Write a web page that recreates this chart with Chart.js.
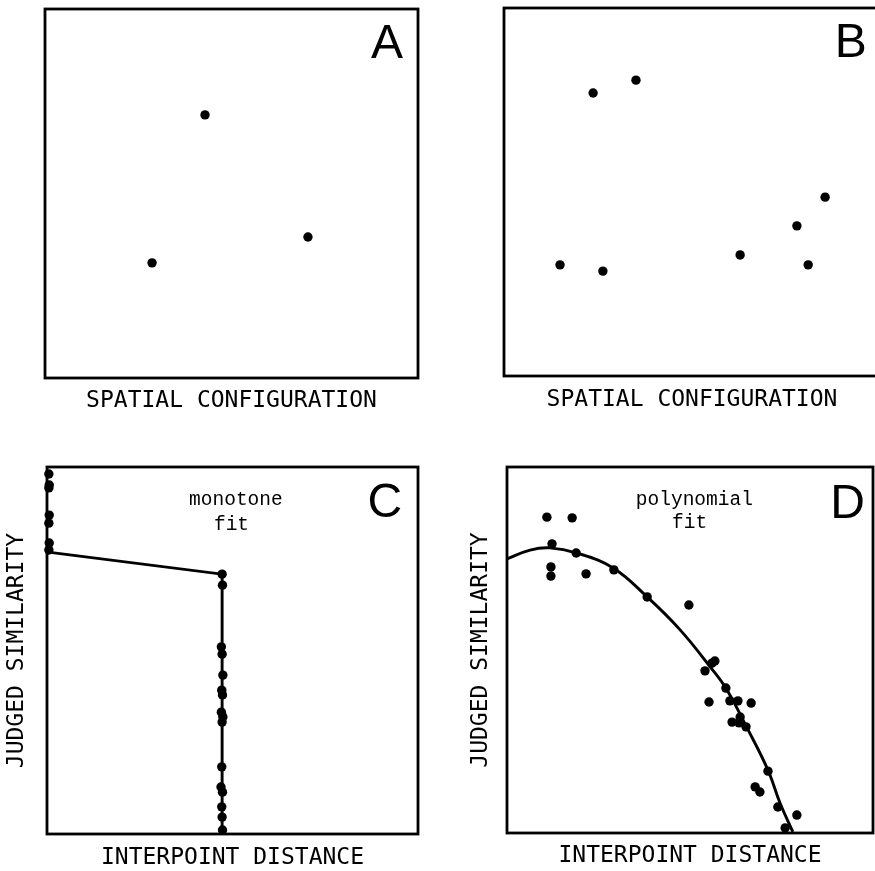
<!DOCTYPE html>
<html>
<head>
<meta charset="utf-8">
<script src="https://cdn.jsdelivr.net/npm/chart.js@4.4.1/dist/chart.umd.min.js"></script>
<style>
    html, body { margin: 0; padding: 0; background: #fff; overflow: hidden; width: 875px; height: 871px; }
    canvas { position: absolute; }
</style>
</head>
<body>
<canvas id="panelA" width="437" height="437" style="left:0;top:0"></canvas>
<canvas id="panelB" width="450" height="437" style="left:440px;top:0"></canvas>
<canvas id="panelC" width="437" height="440" style="left:0;top:437px"></canvas>
<canvas id="panelD" width="450" height="440" style="left:440px;top:437px"></canvas>
<script>
// Panel A - spatial configuration, 3 points
const aX = [42.9, 28.7, 70.5];
const aY = [71.3, 31.2, 38.2];

// Panel B - spatial configuration, 8 points
const bX = [23.7, 35.1, 14.9, 26.3, 62.8, 77.9, 80.9, 85.4];
const bY = [76.9, 80.4, 30.2, 28.5, 32.9, 40.8, 30.2, 48.6];

// Panel C - points piled on the left edge and on the vertical step
const cEdgeX = [0.5, 0.6, 0.5, 0.6, 0.5, 0.6, 0.5];
const cEdgeY = [98.1, 95.1, 94.3, 86.9, 84.7, 79.3, 77.4];
const cDotX = [47.2, 47.3, 47.0, 47.2, 47.4, 47.1, 47.3, 47.0, 47.4, 47.2, 47.1, 46.9, 47.3, 47.1, 47.2, 47.3];
const cDotY = [70.8, 67.8, 51.0, 49.0, 43.3, 39.2, 37.9, 33.2, 31.9, 30.5, 18.3, 12.8, 11.4, 7.4, 4.6, 1.1];
const cFitX = [0.3, 47.2, 47.2];
const cFitY = [76.8, 70.8, 0];

// Panel D - scatter with polynomial fit
const dX = [10.9, 17.8, 12.3, 18.9, 12.0, 12.0, 21.6, 29.2, 38.3, 49.7, 54.1, 56.0, 56.8, 55.2, 59.8, 60.9,
    63.1, 66.7, 63.7, 61.5, 63.4, 65.3, 71.3, 67.8, 69.1, 74.0, 79.2, 76.0];
const dY = [86.3, 86.1, 79.0, 76.5, 72.7, 70.2, 70.8, 71.9, 64.5, 62.3, 44.3, 46.4, 47.0, 35.8, 39.6, 36.1,
    36.1, 35.5, 31.7, 30.3, 30.1, 29.0, 16.9, 12.6, 11.2, 7.1, 4.9, 1.4];
const dCurveX = [0, 6.3, 11.7, 19.1, 29.0, 38.3, 47.3, 55.5, 60.1, 65.6, 71.3, 74.6, 78.1];
const dCurveY = [74.9, 77.3, 77.9, 76.5, 72.4, 64.5, 55.5, 45.4, 39.1, 28.7, 17.2, 8.2, 0.3];

const titleFont = { family: '"DejaVu Sans Mono", monospace', size: 23, lineHeight: 1.2 };
const letterFont = '48px "Liberation Sans", Arial, sans-serif';
const noteFont = '19.5px "Liberation Mono", "Courier New", monospace';

const toPoints = (xs, ys) => xs.map((x, i) => ({ x: x, y: ys[i] }));

Chart.defaults.color = '#000';
Chart.defaults.font.family = titleFont.family;

// Draws the square frame around the plot area
const frame = {
    id: 'frame',
    beforeDatasetsDraw(chart) {
        const { ctx, chartArea } = chart;
        ctx.save();
        ctx.strokeStyle = '#000';
        ctx.lineWidth = 2.8;
        ctx.strokeRect(chartArea.left, chartArea.top, chartArea.right - chartArea.left, chartArea.bottom - chartArea.top);
        ctx.restore();
    }
};

// Panel letter and notes, placed in data units
const panelText = {
    id: 'panelText',
    afterDatasetsDraw(chart, args, opts) {
        const { ctx, scales } = chart;
        ctx.save();
        ctx.fillStyle = '#000';
        ctx.textBaseline = 'alphabetic';
        (opts.items || []).forEach(item => {
            ctx.font = item.font;
            ctx.textAlign = item.align || 'left';
            ctx.fillText(item.text, scales.x.getPixelForValue(item.x), scales.y.getPixelForValue(item.y));
        });
        ctx.restore();
    }
};

function dotSet(points) {
    return {
        data: points,
        pointRadius: 4.7,
        pointHoverRadius: 4.7,
        pointBackgroundColor: '#000',
        pointBorderWidth: 0,
        showLine: false,
        clip: false
    };
}

function lineSet(points, smooth) {
    return {
        data: points,
        showLine: true,
        pointRadius: 0,
        borderColor: '#000',
        borderWidth: 2.9,
        tension: smooth ? 0.4 : 0,
        clip: false
    };
}

function makePanel(id, datasets, cfg) {
    new Chart(document.getElementById(id), {
        type: 'scatter',
        data: { datasets: datasets },
        options: {
            responsive: false,
            animation: false,
            events: [],
            layout: { autoPadding: false, padding: cfg.padding },
            scales: {
                x: {
                    min: 0, max: 100,
                    border: { display: false },
                    grid: { display: false, drawTicks: false },
                    ticks: { display: false },
                    title: { display: true, text: cfg.xTitle, font: titleFont, padding: { top: cfg.xPad, bottom: 0 } }
                },
                y: {
                    min: 0, max: 100,
                    display: !!cfg.yTitle,
                    border: { display: false },
                    grid: { display: false, drawTicks: false },
                    ticks: { display: false },
                    title: {
                        display: !!cfg.yTitle, text: cfg.yTitle, font: titleFont,
                        padding: cfg.yPad || { top: 0, bottom: 0 }
                    }
                }
            },
            plugins: {
                legend: { display: false },
                tooltip: { enabled: false },
                panelText: { items: cfg.texts }
            }
        },
        plugins: [frame, panelText]
    });
}

makePanel('panelA', [dotSet(toPoints(aX, aY))], {
    padding: { left: 45, right: 19, top: 9, bottom: 22.2 },
    xTitle: 'SPATIAL CONFIGURATION', xPad: 9.2,
    texts: [{ text: 'A', x: 96.0, y: 86.7, font: letterFont, align: 'right' }]
});

makePanel('panelB', [dotSet(toPoints(bX, bY))], {
    padding: { left: 64, right: 10, top: 8, bottom: 23.2 },
    xTitle: 'SPATIAL CONFIGURATION', xPad: 10.2,
    texts: [{ text: 'B', x: 96.5, y: 86.7, font: letterFont, align: 'right' }]
});

makePanel('panelC', [
    lineSet(toPoints(cFitX, cFitY), false),
    dotSet(toPoints(cEdgeX, cEdgeY)),
    dotSet(toPoints(cDotX, cDotY))
], {
    padding: { left: 0, right: 19, top: 30, bottom: 5.2 },
    xTitle: 'INTERPOINT DISTANCE', xPad: 10.2,
    yTitle: 'JUDGED SIMILARITY', yPad: { top: 2.9, bottom: 16.5 },
    texts: [
        { text: 'C', x: 95.7, y: 86.4, font: letterFont, align: 'right' },
        { text: 'monotone', x: 38.3, y: 89.6, font: noteFont },
        { text: 'fit', x: 45.0, y: 82.8, font: noteFont }
    ]
});

makePanel('panelD', [
    lineSet(toPoints(dCurveX, dCurveY), true),
    dotSet(toPoints(dX, dY))
], {
    padding: { left: 24, right: 17, top: 30, bottom: 7.2 },
    xTitle: 'INTERPOINT DISTANCE', xPad: 9.2,
    yTitle: 'JUDGED SIMILARITY', yPad: { top: 3.2, bottom: 12.2 },
    texts: [
        { text: 'D', x: 97.8, y: 86.1, font: letterFont, align: 'right' },
        { text: 'polynomial', x: 35.2, y: 89.6, font: noteFont },
        { text: 'fit', x: 45.1, y: 83.3, font: noteFont }
    ]
});
</script>
</body>
</html>
